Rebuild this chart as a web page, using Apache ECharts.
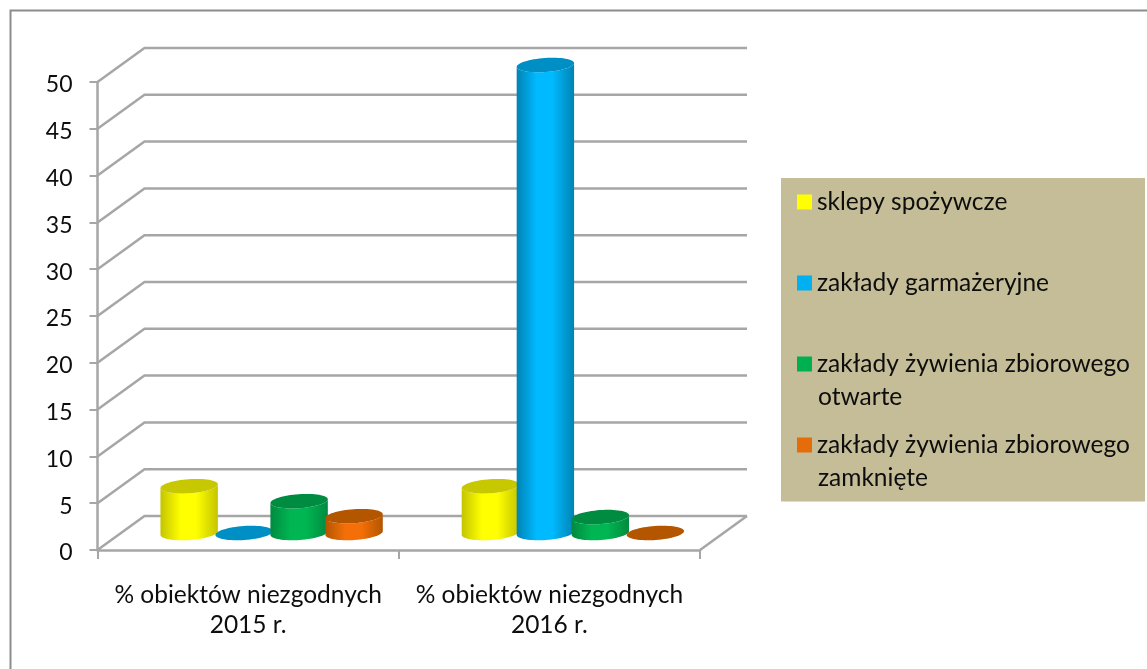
<!DOCTYPE html>
<html><head><meta charset="utf-8">
<style>html,body{margin:0;padding:0;background:#fff}#c{width:1147px;height:669px}</style>
<script src="https://cdn.jsdelivr.net/npm/echarts@6/dist/echarts.min.js"></script>
</head><body><div id="c"></div>
<script>
const categories = ['% obiektów niezgodnych\n2015 r.', '% obiektów niezgodnych\n2016 r.'];
const yTicks = [0, 5, 10, 15, 20, 25, 30, 35, 40, 45, 50];
const sklepy = [5, 5];
const garmazeryjne = [0, 50];
const otwarte = [3.4, 1.7];
const zamkniete = [1.8, 0];
const seriesNames = ['sklepy spożywcze', 'zakłady garmażeryjne', 'zakłady żywienia zbiorowego otwarte', 'zakłady żywienia zbiorowego zamknięte'];
const legendLines = ['sklepy spożywcze', 'zakłady garmażeryjne', 'zakłady żywienia zbiorowego', 'zakłady żywienia zbiorowego'];
const palette = [
  {swatch:'#FFFF00', edge:'#C4C400', mid:'#FFFF00', top:'#C8C800'},
  {swatch:'#00B0F0', edge:'#0083B4', mid:'#00BAFF', top:'#008FC4'},
  {swatch:'#00B050', edge:'#008A40', mid:'#00B652', top:'#008C40'},
  {swatch:'#E46C0A', edge:'#B25600', mid:'#F56F08', top:'#B45600'}
];
const FONT = 'Lato';
const TEXT = '#0d0d0d';
const DEPTH_X = 47, DEPTH_Y = -34;
const GRID_COLOR = '#A6A6A6';
const MID = 0.5;
const BAR_FRAC = 0.191, STEP_FRAC = 0.1825, RY = 7, TILT = -4 * Math.PI / 180;

function ellPt(cx, cy, rx, ry, t) {
  const c = Math.cos(t), s = Math.sin(t);
  const x = rx * c, y = ry * s;
  return [cx + x * Math.cos(TILT) - y * Math.sin(TILT), cy + x * Math.sin(TILT) + y * Math.cos(TILT)];
}
function ellipsePts(cx, cy, rx, ry) {
  const p = [];
  for (let i = 0; i < 64; i++) p.push(ellPt(cx, cy, rx, ry, i / 64 * Math.PI * 2));
  return p;
}
function cylinder(seriesIdx) {
  return function (params, api) {
    const cat = api.value(0), val = api.value(1);
    const band = api.size([1, 0])[0];
    const rx = band * BAR_FRAC / 2;
    const base = api.coord([cat, 0]);
    const top = api.coord([cat, val]);
    const ox = DEPTH_X * MID + (seriesIdx - 1.5) * band * STEP_FRAC;
    const oy = DEPTH_Y * MID;
    const bx = base[0] + ox, by = base[1] + oy;
    const tx = top[0] + ox, ty = top[1] + oy;
    const c = palette[seriesIdx];
    const children = [];
    if (by - ty > 0.5) {
      const pts = [];
      const steps = 32;
      for (let i = 0; i <= steps; i++) pts.push(ellPt(bx, by, rx, RY, i / steps * Math.PI));
      for (let i = steps; i >= 0; i--) pts.push(ellPt(tx, ty, rx, RY, i / steps * Math.PI));
      children.push({
        type: 'polygon', shape: {points: pts},
        style: {fill: new echarts.graphic.LinearGradient(0, 0, 1, 0, [
          {offset: 0, color: c.edge}, {offset: 0.35, color: c.mid}, {offset: 0.62, color: c.mid}, {offset: 1, color: c.edge}
        ])}
      });
    }
    children.push({type: 'polygon', shape: {points: ellipsePts(tx, ty, rx, RY)}, style: {fill: c.top}});
    return {type: 'group', children};
  };
}
function wallLines(params, api) {
  const v = api.value(0);
  const cs = params.coordSys;
  const p = api.coord([0, v]);
  const lx = cs.x, y = p[1];
  const rx = cs.x + cs.width;
  const children = [{
    type: 'polyline',
    shape: {points: [[lx, y], [lx + DEPTH_X, y + DEPTH_Y], [rx + DEPTH_X, y + DEPTH_Y]]},
    style: {fill: 'none', stroke: GRID_COLOR, lineWidth: 2.5}
  }];
  if (v === 0) children.push({
    type: 'line', shape: {x1: rx, y1: y, x2: rx + DEPTH_X, y2: y + DEPTH_Y},
    style: {stroke: GRID_COLOR, lineWidth: 2.5}
  });
  return {type: 'group', children};
}
const valueSets = [sklepy, garmazeryjne, otwarte, zamkniete];
const chart = echarts.init(document.getElementById('c'), null, {renderer: 'canvas'});
chart.setOption({
  animation: false,
  backgroundColor: '#fff',
  grid: {left: 97.5, top: 82, width: 602.5, height: 468},
  xAxis: {
    type: 'category', data: categories,
    axisLine: {lineStyle: {color: GRID_COLOR, width: 2.5}},
    axisTick: {show: true, length: 9, alignWithLabel: false, lineStyle: {color: GRID_COLOR, width: 2}},
    axisLabel: {margin: 30, interval: 0, color: TEXT, fontFamily: FONT, fontSize: 24.5, lineHeight: 30}
  },
  yAxis: {
    type: 'value', min: 0, max: 50, interval: 5,
    axisLine: {show: true, lineStyle: {color: GRID_COLOR, width: 2.5}},
    axisTick: {show: true, length: 8, lineStyle: {color: GRID_COLOR, width: 2}},
    splitLine: {show: false},
    axisLabel: {
      margin: 25, formatter: '{a|{value}}',
      rich: {a: {color: TEXT, fontFamily: FONT, fontSize: 23, padding: [6, 0, 0, 0]}}
    }
  },
  legend: {
    show: true, orient: 'vertical', left: 797, top: 188, padding: 0,
    itemWidth: 15, itemHeight: 15, itemGap: 53, selectedMode: false,
    icon: 'rect',
    data: seriesNames.map((n, i) => ({name: n, itemStyle: {color: palette[i].swatch}})),
    formatter: n => legendLines[seriesNames.indexOf(n)],
    textStyle: {color: TEXT, fontFamily: FONT, fontSize: 24.5, lineHeight: 28}
  },
  graphic: [
    {type: 'polyline', z: 0, shape: {points: [[10.5, 669], [10.5, 10.5], [1147, 10.5]]}, style: {fill: 'none', stroke: '#8C8C8C', lineWidth: 2}},
    {type: 'rect', z: 0, shape: {x: 781, y: 178, width: 364, height: 323.5}, style: {fill: '#C4BD97'}},
    {type: 'text', z: 10, x: 818, y: 397, style: {text: 'otwarte', fill: TEXT, font: '24.5px ' + FONT, verticalAlign: 'middle'}},
    {type: 'text', z: 10, x: 818, y: 478, style: {text: 'zamknięte', fill: TEXT, font: '24.5px ' + FONT, verticalAlign: 'middle'}}
  ],
  series: [
    {type: 'custom', name: '_walls', silent: true, z: 1, data: yTicks.map(v => [v]), renderItem: wallLines, encode: {y: 0}, clip: false}
  ].concat(valueSets.map((vals, i) => ({
    type: 'custom', name: seriesNames[i], z: 3 + i, clip: false,
    itemStyle: {color: palette[i].swatch},
    data: vals.map((v, k) => [k, v]),
    encode: {x: 0, y: 1},
    renderItem: cylinder(i)
  })))
});
</script></body></html>
